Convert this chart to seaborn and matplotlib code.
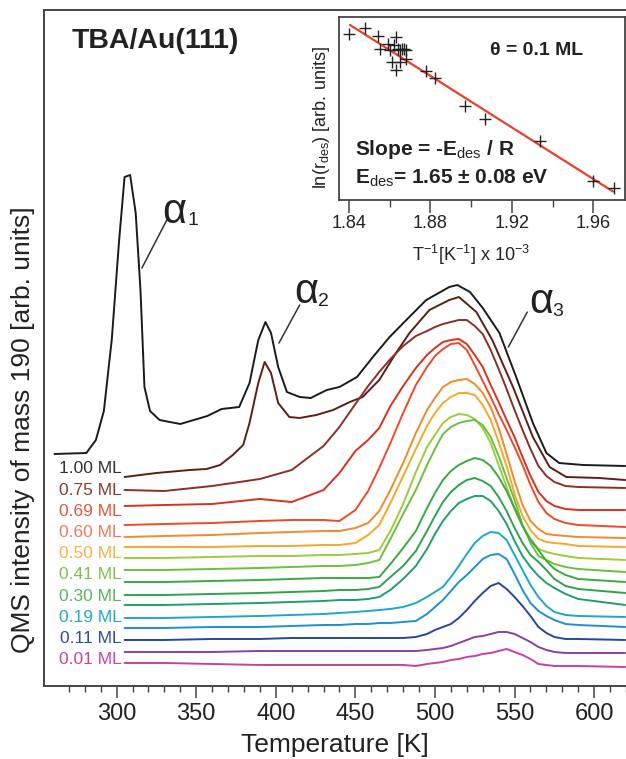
import matplotlib
matplotlib.use('Agg')
import matplotlib.pyplot as plt
import pandas as pd
import seaborn as sns

sns.set_style('ticks')
plt.rcParams['font.family'] = ['Liberation Sans', 'DejaVu Sans']
plt.rcParams['mathtext.fontset'] = 'custom'
plt.rcParams['mathtext.rm'] = 'Liberation Sans'
plt.rcParams['mathtext.it'] = 'Liberation Sans:italic'
plt.rcParams['mathtext.bf'] = 'Liberation Sans:bold'

# ---- TPD traces (arb. units) ----
# top trace (1.00 ML, with alpha1 and alpha2)
temps_top = [261, 281, 287, 292, 297, 301.5, 305, 308.5, 312, 315, 317.5, 321, 327, 340,
             357, 366, 377, 383.5, 389, 393.5, 397, 401.5, 407, 415, 422, 432, 440, 451,
             461, 471.5, 482, 494.5, 509, 514, 522, 530, 540.5, 551, 561.5, 570, 578,
             593, 619.5]
trace_01 = [232, 233, 246, 275, 347, 444, 509, 511, 473, 396, 299, 275, 266, 262,
            270, 277, 279, 303, 346, 364, 353, 319, 294, 289, 288, 296, 299, 309,
            329, 349, 366, 386, 399, 401, 394, 378, 353, 309, 263, 233, 223,
            221, 220]

# second trace (with alpha2)
temps_second = [305, 325, 346, 356.5, 365, 373, 379.5, 383.5, 389, 393, 397, 401.5, 408.5,
                415, 425.5, 436, 446.5, 454.5, 465, 475.5, 484, 496.5, 509, 515, 526,
                536, 549, 561.5, 572, 582.5, 603, 619.5]
trace_02 = [209, 213, 216, 217, 221, 231, 241, 263, 303, 324, 313, 283, 269,
            268, 271, 276, 284, 289, 306, 333, 353, 376, 386, 389, 374,
            346, 299, 249, 219, 209, 208, 206]

# remaining traces share one temperature grid
temps_grid = [305, 330, 360, 390, 410, 430, 440, 450, 458, 465, 472, 480, 488, 495, 500,
              505, 510, 515, 520, 525, 530, 535, 540, 545, 550, 555, 560, 565, 570, 575,
              582, 590, 619.5]
trace_03 = [196, 195, 200, 207, 216, 240, 259, 282, 300, 314, 327, 340, 350, 355, 359, 362, 364,
            366, 366, 360, 352, 336, 317, 297, 276, 256, 237, 220, 210, 204, 200, 199, 198]
trace_04 = [180, 181, 182, 187, 184, 196, 213, 235, 246, 258, 280, 300, 318, 331, 338, 344, 346,
            347, 342, 331, 319, 301, 284, 266, 249, 229, 210, 194, 185, 180, 177, 176, 176]
trace_05 = [161, 162, 163, 165, 166, 166, 165, 176, 195, 218, 243, 273, 301, 319, 330, 337, 342,
            343, 336, 321, 305, 289, 272, 256, 239, 221, 201, 184, 173, 167, 163, 161, 159]
trace_06 = [149, 150, 151, 153, 154, 155, 155, 158, 163, 175, 196, 223, 253, 276, 288, 299, 304,
            306, 307, 302, 293, 279, 258, 232, 205, 181, 165, 157, 152, 151, 150, 149, 148]
trace_07 = [139, 139, 139, 140, 140, 141, 141, 143, 151, 161, 183, 210, 237, 260, 273, 283, 289,
            293, 293, 291, 281, 266, 244, 220, 192, 170, 156, 147, 144, 143, 142, 140, 139]
trace_08 = [128, 128, 129, 130, 130, 131, 131, 132, 133, 136, 155, 182, 214, 239, 251, 263, 269,
            272, 271, 267, 258, 243, 221, 199, 177, 160, 147, 137, 134, 132, 130, 128, 126]
trace_09 = [116, 116, 117, 118, 119, 120, 120, 121, 123, 126, 147, 172, 196, 221, 237, 252, 259,
            263, 265, 266, 261, 249, 230, 208, 186, 161, 143, 130, 126, 122, 119, 117, 114]
trace_10 = [104, 104, 105, 106, 107, 108, 108, 108, 108, 109, 122, 138, 155, 178, 193, 206, 215,
            221, 225, 228, 226, 220, 209, 195, 178, 160, 146, 136, 125, 117, 111, 107, 104]
trace_11 = [91, 91, 92, 93, 94, 95, 96, 96, 97, 99, 109, 120, 135, 155, 170, 184, 194,
            201, 206, 208, 205, 200, 189, 175, 158, 143, 131, 124, 116, 107, 100, 97, 93]
trace_12 = [81, 81, 82, 83, 84, 85, 86, 86, 87, 89, 96, 107, 120, 137, 152, 165, 175,
            183, 187, 190, 190, 185, 175, 162, 145, 130, 119, 110, 103, 98, 92, 87, 81]
trace_13 = [68, 68, 69, 70, 71, 72, 73, 74, 75, 76, 77, 79, 83, 89, 94, 99, 109,
            120, 132, 143, 150, 154, 153, 146, 131, 116, 101, 89, 80, 74, 71, 70, 69]
trace_14 = [58, 58, 59, 59, 60, 61, 61, 62, 62, 63, 63, 64, 65, 72, 79, 86, 95,
            104, 111, 119, 127, 131, 132, 127, 112, 96, 83, 75, 70, 66, 62, 61, 59]
trace_15 = [46, 46, 47, 47, 48, 48, 48, 48, 48, 48, 48, 48, 49, 52, 56, 59, 62,
            68, 76, 85, 93, 100, 103, 97, 89, 80, 70, 59, 53, 49, 47, 47, 46]
trace_16 = [34, 34, 34, 35, 35, 35, 35, 35, 35, 35, 35, 35, 35, 36, 37, 38, 40,
            43, 46, 49, 50, 52, 54, 54, 52, 48, 44, 39, 36, 34, 33, 33, 33]
trace_17 = [23, 23, 22, 21, 21, 21, 21, 21, 21, 21, 21, 21, 20, 22, 23, 24, 26,
            27, 29, 30, 32, 33, 35, 37, 34, 31, 27, 22, 21, 20, 20, 20, 19]

trace_colors = ['#1b1b1b', '#5c1f14', '#8c2f24', '#d9301e', '#ee4a2a', '#f18a2a',
                '#f5a82a', '#9ccc3a', '#6cbf3f', '#3aaa3f', '#2fa34a', '#1f9f6a',
                '#1aa9c6', '#1c8fd6', '#24489c', '#8a3fa6', '#c6429e']

coverage_labels = ['1.00 ML', '0.75 ML', '0.69 ML', '0.60 ML', '0.50 ML',
                   '0.41 ML', '0.30 ML', '0.19 ML', '0.11 ML', '0.01 ML']
label_colors = ['#333333', '#8b3a2f', '#e5553b', '#f07a5a', '#f6b04a',
                '#7dc04a', '#5bb55a', '#22a8c4', '#2a4f9e', '#c8449c']

# ---- inset: Arrhenius-type plot ----
inv_T = [1.840, 1.848, 1.854, 1.855, 1.859, 1.860, 1.862, 1.863, 1.864, 1.865, 1.866, 1.867,
         1.868, 1.861, 1.863, 1.865, 1.868, 1.878, 1.882, 1.897, 1.907, 1.934, 1.960, 1.970]
ln_rate = [3.33, 3.45, 3.28, 3.03, 3.13, 3.00, 3.10, 3.27, 3.03, 3.00, 3.03, 3.03,
           3.00, 2.77, 2.60, 2.77, 2.83, 2.59, 2.45, 1.88, 1.63, 1.17, 0.37, 0.23]
fit_inv_T = [1.8405, 1.9697]
fit_ln_rate = [3.50, 0.17]

# long-form table for seaborn
grid_traces = [trace_03, trace_04, trace_05, trace_06, trace_07, trace_08, trace_09, trace_10,
               trace_11, trace_12, trace_13, trace_14, trace_15, trace_16, trace_17]
rows = []
for t, v in zip(temps_top, trace_01):
    rows.append((1, t, v))
for t, v in zip(temps_second, trace_02):
    rows.append((2, t, v))
for i, tr in enumerate(grid_traces):
    for t, v in zip(temps_grid, tr):
        rows.append((i + 3, t, v))
df = pd.DataFrame(rows, columns=['trace', 'temperature', 'qms'])
palette = {i + 1: c for i, c in enumerate(trace_colors)}

fig = plt.figure(figsize=(6.26, 7.59), dpi=100)
ax = fig.add_axes([0.0703, 0.0962, 0.9297, 0.8906])

sns.lineplot(data=df, x='temperature', y='qms', hue='trace', palette=palette,
             estimator=None, sort=False, legend=False, linewidth=1.4, ax=ax)

ax.set_xlim(254.4, 619.5)
ax.set_ylim(0, 676)
ax.set_yticks([])
ax.set_xticks(range(300, 601, 50))
ax.set_xticks([t for t in range(270, 621, 10) if t % 50], minor=True)
ax.tick_params(axis='x', which='major', direction='out', length=8.5, width=1.1,
               color='#444444', labelsize=17, pad=4, labelcolor='#222222')
ax.tick_params(axis='x', which='minor', direction='out', length=4, width=1.0, color='#444444')
for side in ['left', 'bottom', 'top']:
    ax.spines[side].set_color('#444444')
    ax.spines[side].set_linewidth(1.4)
ax.spines['right'].set_visible(False)

ax.set_xlabel('Temperature [K]', fontsize=19, color='#222222')
ax.xaxis.set_label_coords(0.5, -0.069)
ax.set_ylabel('')
fig.text(23 / 626, 1 - 430 / 759, 'QMS intensity of mass 190 [arb. units]', rotation=90,
         ha='center', va='center', fontsize=19, color='#222222')

ax.text(0.048, 0.954, 'TBA/Au(111)', transform=ax.transAxes, fontsize=20.5,
        fontweight='bold', ha='left', va='center', color='#222222')

# coverage labels, stacked down the left side next to the traces
for k, (lab, col) in enumerate(zip(coverage_labels, label_colors)):
    ax.text(303.3, 217 - k * 21.2, lab, color=col, fontsize=12.5, ha='right', va='center')

# peak labels with leader lines
peak_text = [(328.4, 463, '1', 344.5, 461, (332.2, 468), (315.9, 418)),
             (411.9, 383, '2', 426.5, 380, (415.0, 381), (402.0, 343)),
             (559.3, 373, '3', 573.5, 370, (558.0, 374), (546.1, 339))]
for tx, ty, sub, sx, sy, p0, p1 in peak_text:
    ax.text(tx, ty, 'α', fontsize=30, ha='left', va='baseline', color='#222222')
    ax.text(sx, sy, sub, fontsize=14, ha='left', va='baseline', color='#222222')
    ax.plot([p0[0], p1[0]], [p0[1], p1[1]], color='#333333', lw=1.1)

# inset
ax_in = fig.add_axes([0.542, 0.7365, 0.4564, 0.2407])
ax_in.set_facecolor('white')
sns.lineplot(x=fit_inv_T, y=fit_ln_rate, color='#e8402a', linewidth=1.6, ax=ax_in)
sns.scatterplot(x=inv_T, y=ln_rate, marker='+', s=80, color='#222222', linewidth=1.0, ax=ax_in,
                zorder=3)
ax_in.set_xlim(1.8352, 1.9756)
ax_in.set_ylim(0, 3.654)
ax_in.set_yticks([])
ax_in.set_xticks([1.84, 1.88, 1.92, 1.96])
ax_in.set_xticklabels(['1.84', '1.88', '1.92', '1.96'])
ax_in.set_xticks([1.86, 1.90, 1.94], minor=True)
ax_in.tick_params(axis='x', which='major', direction='out', length=9, width=1.1,
                  color='#444444', labelsize=13, pad=1.5, labelcolor='#222222')
ax_in.tick_params(axis='x', which='minor', direction='out', length=5, width=1.0, color='#444444')
for side in ax_in.spines:
    ax_in.spines[side].set_color('#444444')
    ax_in.spines[side].set_linewidth(1.3)
ax_in.set_xlabel(r'T$^{-1}$[K$^{-1}$] x 10$^{-3}$', fontsize=13, color='#222222')
ax_in.xaxis.set_label_coords(0.461, -0.235)
ax_in.set_ylabel(r'ln(r$_{\rm des}$) [arb. units]', fontsize=13, color='#222222')
ax_in.yaxis.set_label_coords(-0.026, 0.449)

ax_in.text(0.692, 0.816, 'θ = 0.1 ML', transform=ax_in.transAxes, fontsize=14,
           fontweight='bold', ha='center', va='center', color='#222222')
ax_in.text(0.054, 0.274, r'Slope = -E$_{\rm des}$ / R', transform=ax_in.transAxes, fontsize=15,
           fontweight='bold', ha='left', va='center', color='#222222')
ax_in.text(0.054, 0.12, r'E$_{\rm des}$= 1.65 ± 0.08 eV', transform=ax_in.transAxes, fontsize=15,
           fontweight='bold', ha='left', va='center', color='#222222')

fig.savefig('out.png', dpi=100)
